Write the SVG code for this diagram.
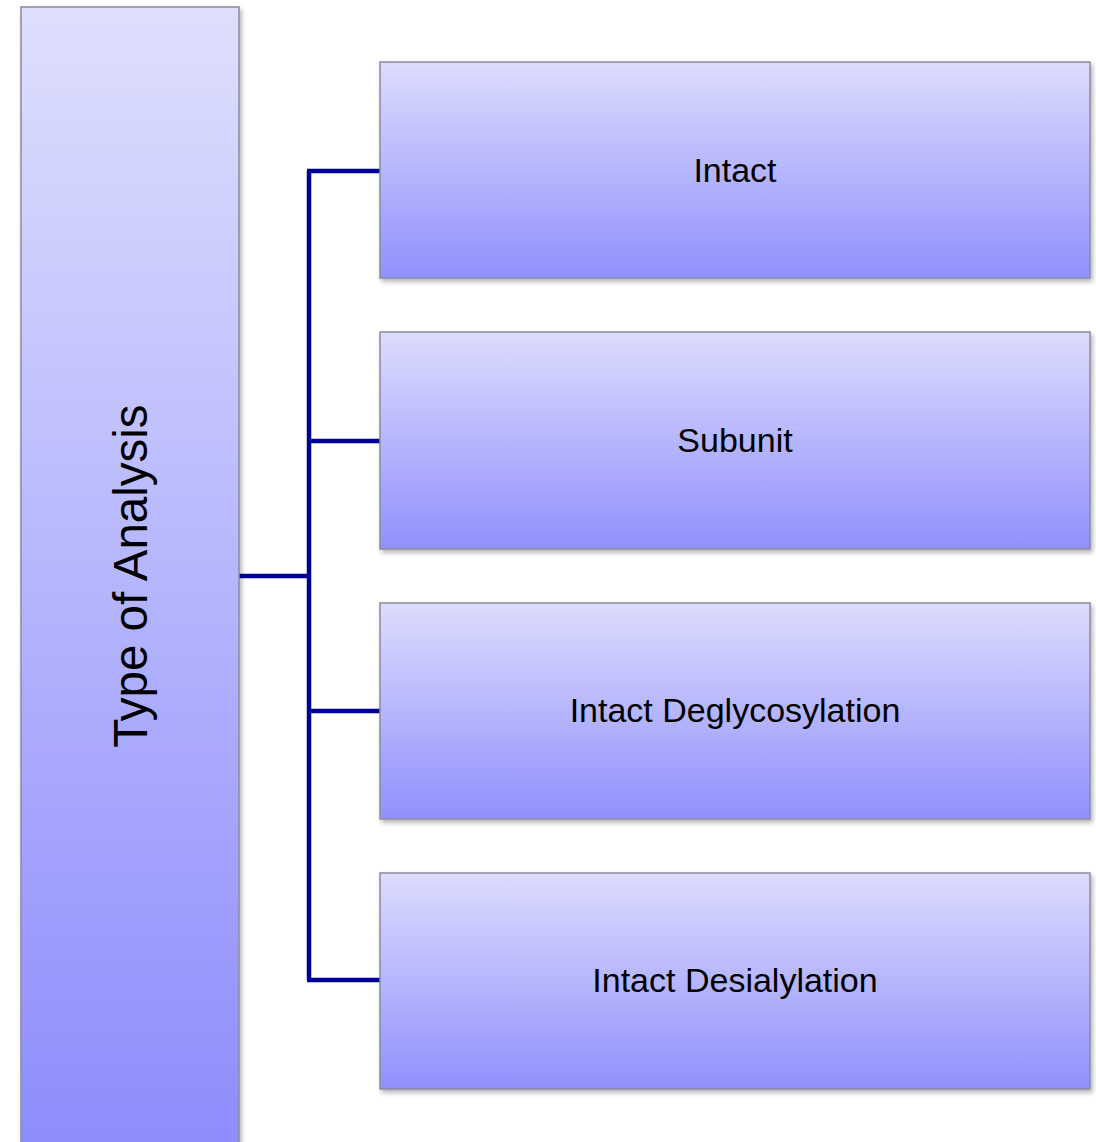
<svg xmlns="http://www.w3.org/2000/svg" width="1096" height="1142" viewBox="0 0 1096 1142">
<defs>
<linearGradient id="gL" x1="0" y1="0" x2="0" y2="1">
<stop offset="0" stop-color="#dedffd"/>
<stop offset="1" stop-color="#8c8cfd"/>
</linearGradient>
<linearGradient id="gR" x1="0" y1="0" x2="0" y2="1">
<stop offset="0" stop-color="#dcdcfd"/>
<stop offset="1" stop-color="#9090fd"/>
</linearGradient>
<filter id="sh" x="-5%" y="-5%" width="115%" height="115%">
<feGaussianBlur in="SourceAlpha" stdDeviation="2.5"/>
<feOffset dx="2" dy="3" result="b"/>
<feComponentTransfer><feFuncA type="linear" slope="0.3"/></feComponentTransfer>
<feMerge><feMergeNode/><feMergeNode in="SourceGraphic"/></feMerge>
</filter>
</defs>
<style>
.box{stroke:#8a8aa0;stroke-width:1.5;filter:url(#sh)}
.lbl{font-family:"Liberation Sans",Arial,sans-serif;font-size:34px;fill:#000;text-anchor:middle;dominant-baseline:central}
.con{fill:none;stroke:#000099;stroke-width:4.5}
</style>
<g id="connectors">
<path class="con" d="M239,576 H309"/>
<path class="con" d="M309,171 V980"/>
<path class="con" d="M307,171 H380"/>
<path class="con" d="M309,441 H380"/>
<path class="con" d="M309,711 H380"/>
<path class="con" d="M307,980 H380"/>
</g>
<g id="node-type">
<rect class="box" x="21" y="7" width="218" height="1150" fill="url(#gL)"/>
<text class="lbl" style="font-size:47.5px" transform="translate(130,576) rotate(-90)">Type of Analysis</text>
</g>
<g id="node-intact">
<rect class="box" x="380" y="62" width="710" height="216" fill="url(#gR)"/>
<text class="lbl" x="735" y="170">Intact</text>
</g>
<g id="node-subunit">
<rect class="box" x="380" y="332" width="710" height="217" fill="url(#gR)"/>
<text class="lbl" x="735" y="440">Subunit</text>
</g>
<g id="node-degly">
<rect class="box" x="380" y="603" width="710" height="216" fill="url(#gR)"/>
<text class="lbl" x="735" y="710">Intact Deglycosylation</text>
</g>
<g id="node-desial">
<rect class="box" x="380" y="873" width="710" height="216" fill="url(#gR)"/>
<text class="lbl" x="735" y="980">Intact Desialylation</text>
</g>
</svg>
